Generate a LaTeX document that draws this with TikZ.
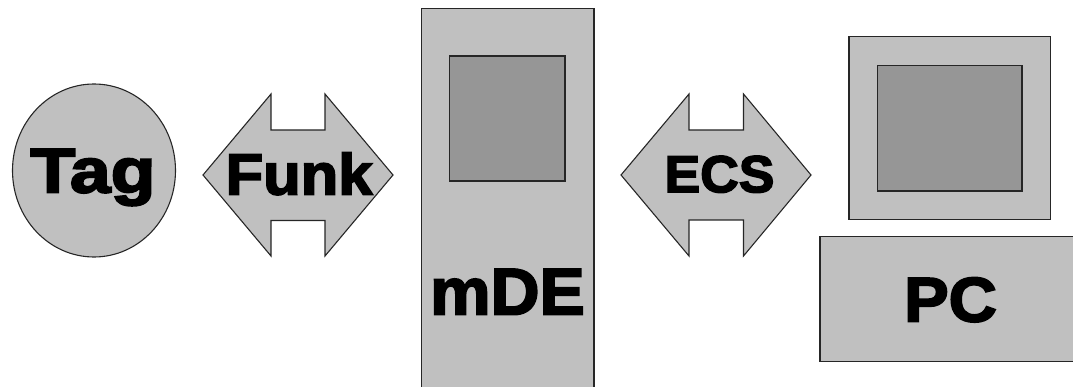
\documentclass[tikz,border=0pt]{standalone}
\usepackage{fontspec}
\newfontfamily\lblfont[FakeStretch=1.06,FakeBold=3]{Liberation Sans}
\usetikzlibrary{shapes.geometric}
\definecolor{bodygray}{HTML}{C0C0C0}
\definecolor{screengray}{HTML}{969696}
\definecolor{edgegray}{HTML}{262626}
\tikzset{
  part/.style={draw=edgegray, line width=1.1pt, fill=bodygray},
  screen/.style={draw=edgegray, line width=1.1pt, fill=screengray},
  lbl/.style={text=black, inner sep=0pt, anchor=base},
}
\begin{document}
\begin{tikzpicture}[x=1pt,y=-1pt]
  \useasboundingbox (0,0) rectangle (1073,387);
  \clip (0,0) rectangle (1073,387);

  % transponder tag
  \node[part, ellipse, minimum width=163pt, minimum height=173pt, inner sep=0pt]
    (tagshape) at (94,170.5) {};
  \node[lbl, font=\fontsize{63}{63}\lblfont\bfseries] (tag) at (93,192.5)
    {\scalebox{1.1}[1]{Tag}};

  % radio link
  \draw[part] (203,175) -- (271,94) -- (271,130) -- (325,130) -- (325,94)
    -- (393,175) -- (325,256) -- (325,220.5) -- (271,220.5) -- (271,256) -- cycle;
  \node[lbl, font=\fontsize{58}{58}\lblfont\bfseries] (funk) at (299,194.5) {Funk};

  % mobile data unit
  \draw[part] (421.7,8.3) rectangle (594,400);
  \draw[screen] (449.3,56) rectangle (565,181);
  \node[lbl, font=\fontsize{66}{66}\lblfont\bfseries] (mde) at (507.5,314.5)
    {\scalebox{0.97}[1]{mDE}};

  % ECS link
  \draw[part] (621,175) -- (689,94) -- (689,130) -- (743.5,130) -- (743.5,94)
    -- (811,175) -- (743.5,256) -- (743.5,220) -- (689,220) -- (689,256) -- cycle;
  \node[lbl, font=\fontsize{52}{52}\lblfont\bfseries] (ecs) at (719.5,192.2)
    {\scalebox{0.97}[1]{ECS}};

  % PC: monitor and base unit
  \draw[part] (849,36.7) rectangle (1050.7,219.3);
  \draw[screen] (877.7,65.7) rectangle (1022,191);
  \draw[part] (820,236.7) rectangle (1090,361.7);
  \node[lbl, font=\fontsize{63}{63}\lblfont\bfseries] (pc) at (950.5,321.5) {PC};
\end{tikzpicture}
\end{document}
